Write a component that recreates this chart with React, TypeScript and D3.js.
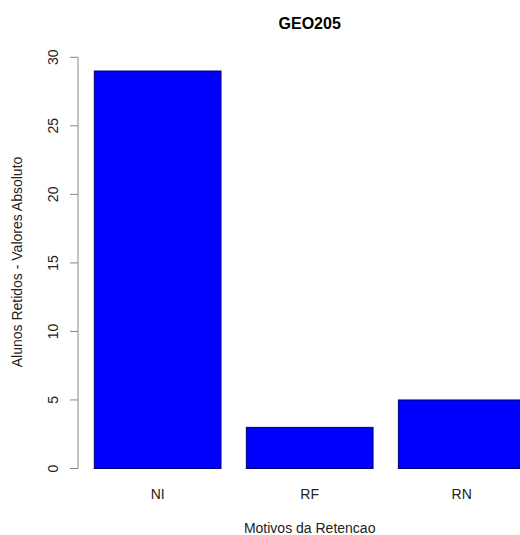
import React from "react";
import * as d3 from "d3";

const categories = ["NI", "RF", "RN"];
const values = [29, 3, 5];
const yTicks = [0, 5, 10, 15, 20, 25, 30];
const title = "GEO205";
const xTitle = "Motivos da Retencao";
const yTitle = "Alunos Retidos - Valores Absoluto";

export default function App() {
  const W = 520, H = 535;
  const y = d3.scaleLinear().domain([0, 30]).range([468.5, 57.3]);
  // R barplot units: width 1, space 0.2
  const x = d3.scaleLinear().domain([0.2, 1.2]).range([94.3, 221]);
  const bars = categories.map((c, i) => {
    const l = 0.2 + i * 1.2;
    return { c, v: values[i], x0: x(l), x1: x(l + 1), cx: x(l + 0.5) };
  });
  const cx = x(1.9);
  const font = "'Liberation Sans', Arial, Helvetica, sans-serif";
  return (
    <svg width={W} height={H} style={{ position: "absolute", left: 0, top: 0, background: "#fff" }} fontFamily={font}>
      <rect x={0} y={0} width={W} height={H} fill="#fff" />
      <text x={cx} y={29} textAnchor="middle" fontWeight="bold" fontSize={16}>{title}</text>
      {bars.map((b) => (
        <rect key={b.c} x={b.x0} y={y(b.v)} width={b.x1 - b.x0} height={y(0) - y(b.v)} fill="#0000ff" stroke="#00007a" strokeWidth={1} />
      ))}
      <line x1={78} x2={78} y1={y(0)} y2={y(30)} stroke="#888" strokeWidth={1} />
      {yTicks.map((t) => (
        <g key={t}>
          <line x1={70} x2={78} y1={y(t)} y2={y(t)} stroke="#888" strokeWidth={1} />
          <text transform={`translate(58,${y(t)}) rotate(-90)`} textAnchor="middle" fontSize={14} fill="#222">{t}</text>
        </g>
      ))}
      {bars.map((b) => (
        <text key={b.c} x={b.cx} y={499} textAnchor="middle" fontSize={14} fill="#222">{b.c}</text>
      ))}
      <text x={cx} y={533} textAnchor="middle" fontSize={14} fill="#222">{xTitle}</text>
      <text transform={`translate(22,262) rotate(-90)`} textAnchor="middle" fontSize={14} fill="#222">{yTitle}</text>
    </svg>
  );
}
